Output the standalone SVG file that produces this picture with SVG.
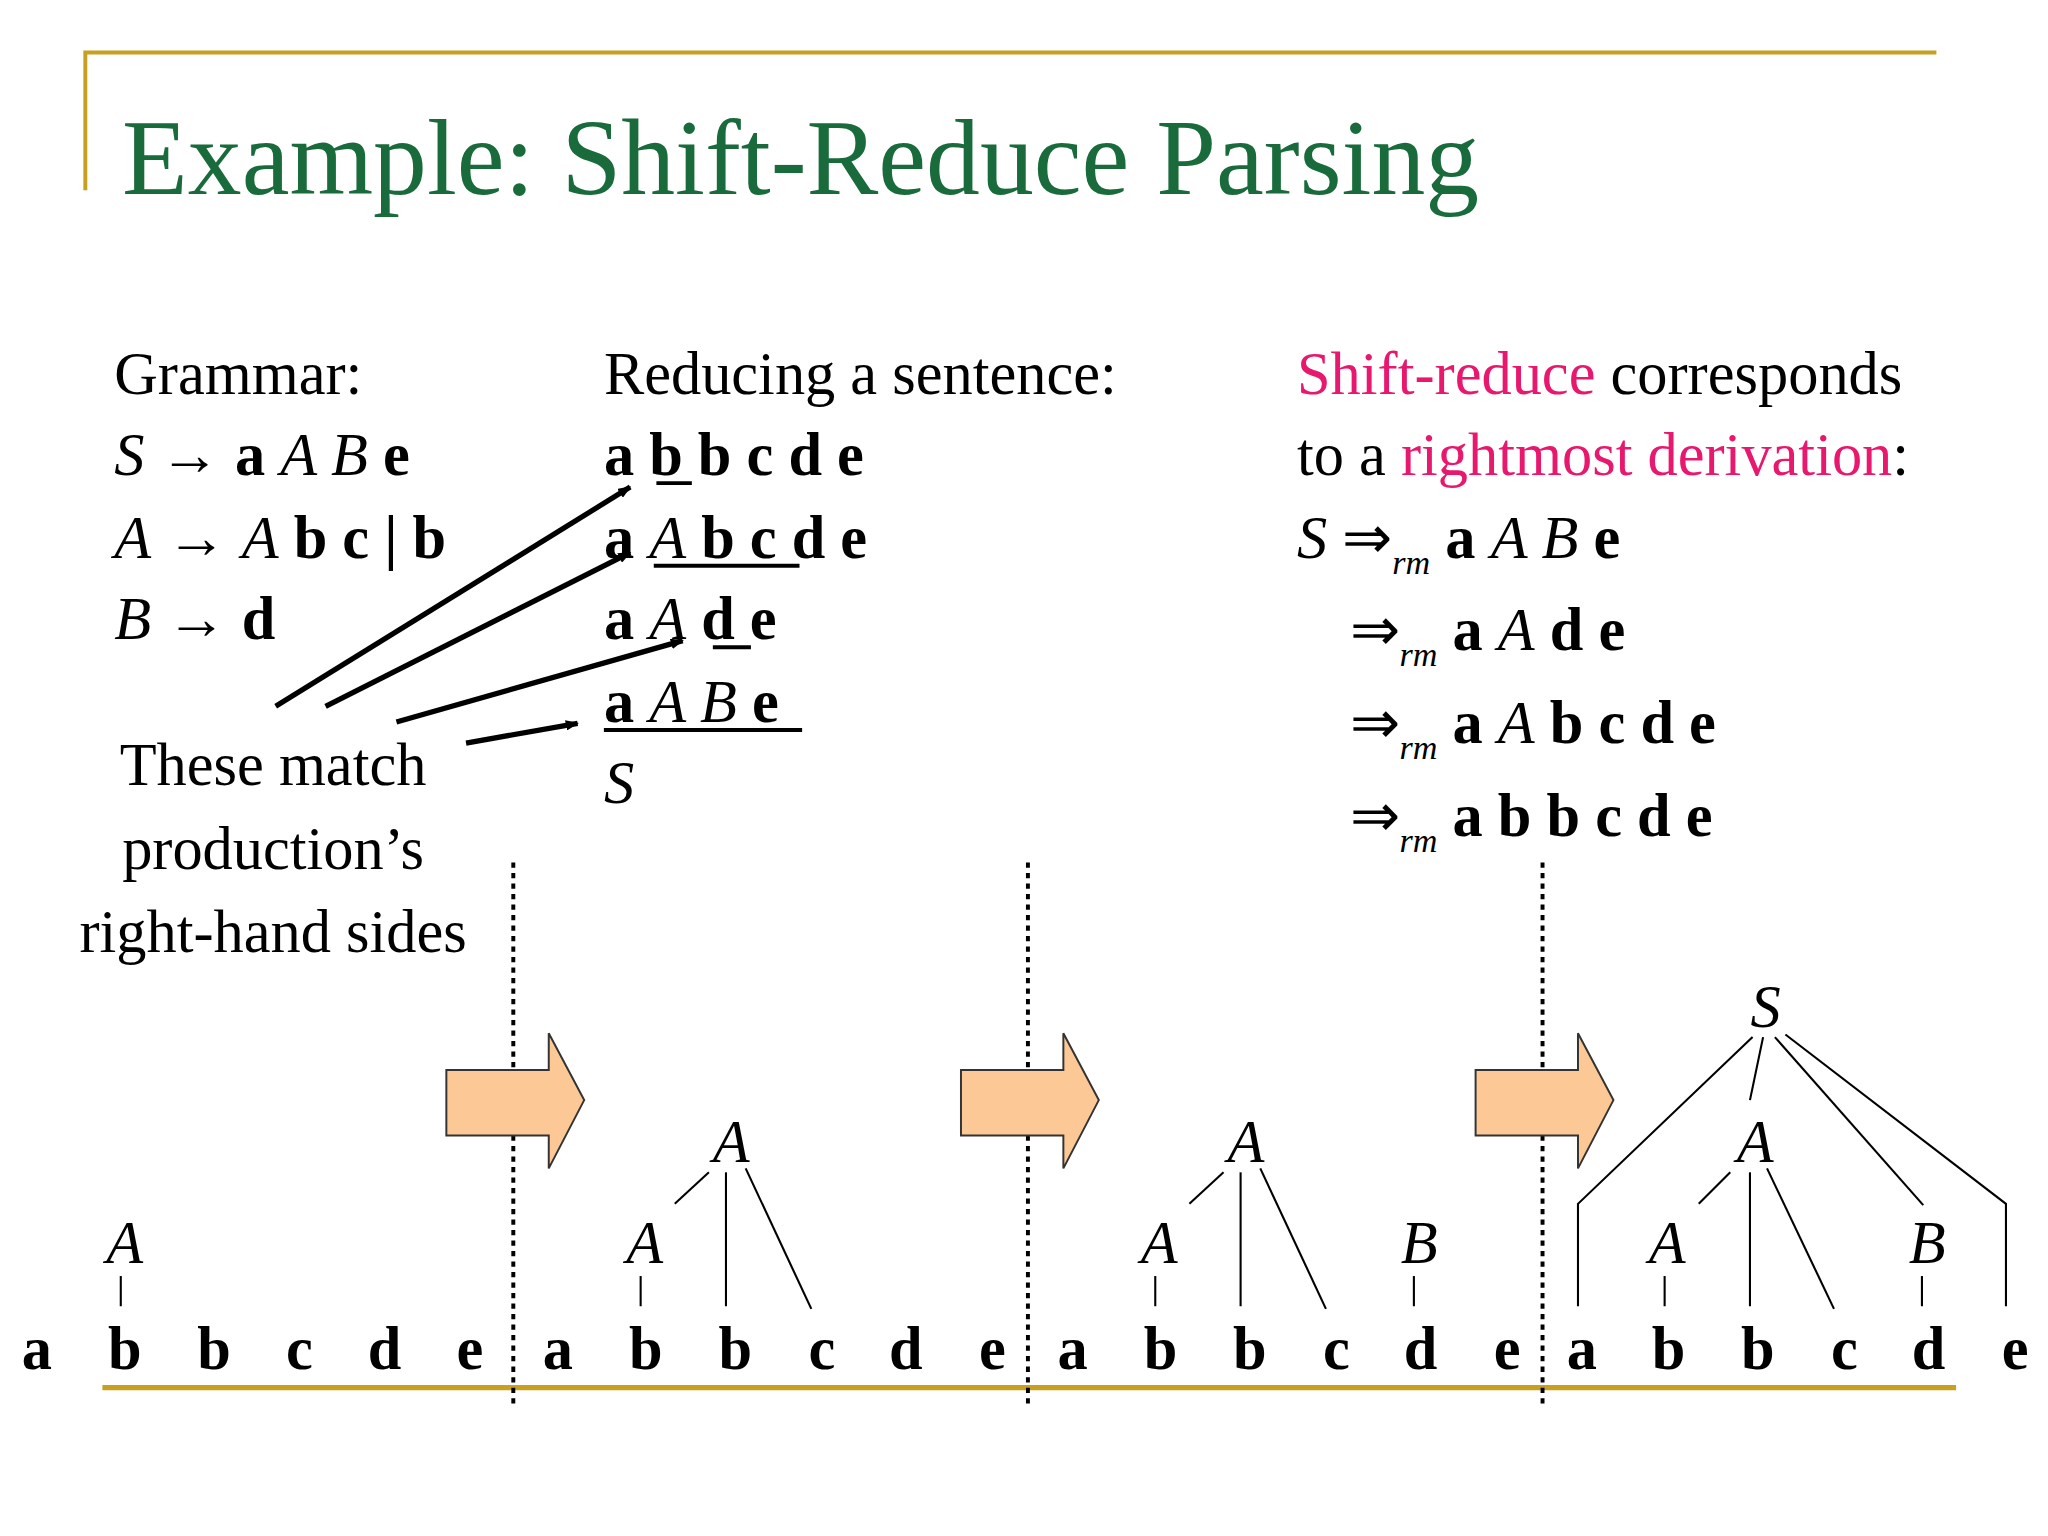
<svg xmlns="http://www.w3.org/2000/svg" width="2048" height="1536" viewBox="0 0 2048 1536">
<style>
text{font-family:"Liberation Serif","Times New Roman",serif;fill:#000}
.t{font-size:46px}
.b{font-weight:bold}
.i{font-style:italic}
.pk{fill:#e8186e}
.ln{stroke:#000;stroke-width:1.6;fill:none}
.dot{stroke:#000;stroke-width:3;stroke-dasharray:4 4}
.ba{fill:#fcc996;stroke:#333;stroke-width:1.5}
.u{stroke:#000;stroke-width:3}
</style>
<defs><marker id="ah" markerWidth="10" markerHeight="8" refX="9" refY="4" orient="auto" markerUnits="userSpaceOnUse"><path d="M0,0 L10,4 L0,8 Z"/></marker></defs>
<rect width="2048" height="1536" fill="#fff"/>
<g transform="scale(1.3128)">
<g id="frame"><path d="M65,145 V40 H1475" stroke="#c8a020" stroke-width="3" fill="none"/>
<line x1="78" y1="1057" x2="1490" y2="1057" stroke="#c8a020" stroke-width="4"/></g>
<text id="title" x="93" y="148" font-size="82" fill="#1a6b3c" style="fill:#1a6b3c">Example: Shift-Reduce Parsing</text>

<g id="grammar" class="t">
<text x="87" y="300" class="t">Grammar:</text>
<text x="87" y="362" class="t"><tspan class="i">S</tspan> → <tspan class="b">a</tspan> <tspan class="i">A B</tspan> <tspan class="b">e</tspan></text>
<text x="87" y="425" class="t"><tspan class="i">A</tspan> → <tspan class="i">A</tspan> <tspan class="b">b c | b</tspan></text>
<text x="87" y="487" class="t"><tspan class="i">B</tspan> → <tspan class="b">d</tspan></text>
</g>

<g id="reducing">
<text x="460" y="300" class="t">Reducing a sentence:</text>
<text x="460" y="362" class="t b">a b b c d e</text>
<line class="u" x1="500" y1="368" x2="527" y2="368"/>
<text x="460" y="425" class="t"><tspan class="b">a</tspan> <tspan class="i">A</tspan> <tspan class="b">b c d e</tspan></text>
<line class="u" x1="498" y1="431" x2="609" y2="431"/>
<text x="460" y="487" class="t"><tspan class="b">a</tspan> <tspan class="i">A</tspan> <tspan class="b">d e</tspan></text>
<line class="u" x1="543" y1="493" x2="572" y2="493"/>
<text x="460" y="550" class="t"><tspan class="b">a</tspan> <tspan class="i">A B</tspan> <tspan class="b">e</tspan></text>
<line class="u" x1="460" y1="556" x2="611" y2="556"/>
<text x="460" y="612" class="t i">S</text>
</g>

<g id="derivation">
<text x="988" y="300" class="t"><tspan class="pk">Shift-reduce</tspan> corresponds</text>
<text x="988" y="362" class="t">to a <tspan class="pk">rightmost derivation</tspan>:</text>
<text x="988" y="425" class="t"><tspan class="i">S</tspan> ⇒<tspan class="i" font-size="26" dy="12">rm</tspan><tspan dy="-12"> </tspan><tspan class="b">a</tspan> <tspan class="i">A B</tspan> <tspan class="b">e</tspan></text>
<text x="1028" y="495" class="t">⇒<tspan class="i" font-size="26" dy="12">rm</tspan><tspan dy="-12"> </tspan><tspan class="b">a</tspan> <tspan class="i">A</tspan> <tspan class="b">d e</tspan></text>
<text x="1028" y="566" class="t">⇒<tspan class="i" font-size="26" dy="12">rm</tspan><tspan dy="-12"> </tspan><tspan class="b">a</tspan> <tspan class="i">A</tspan> <tspan class="b">b c d e</tspan></text>
<text x="1028" y="637" class="t">⇒<tspan class="i" font-size="26" dy="12">rm</tspan><tspan dy="-12"> </tspan><tspan class="b">a b b c d e</tspan></text>
</g>

<g id="note" text-anchor="middle">
<text x="208" y="598" class="t">These match</text>
<text x="208" y="662" class="t">production’s</text>
<text x="208" y="725" class="t">right-hand sides</text>
</g>

<g id="connectors" stroke="#000" stroke-width="4" fill="none">
<line x1="210" y1="538" x2="480" y2="371" marker-end="url(#ah)"/>
<line x1="248" y1="538" x2="480" y2="421" marker-end="url(#ah)"/>
<line x1="302" y1="550" x2="520" y2="488" marker-end="url(#ah)"/>
<line x1="355" y1="566" x2="440" y2="551" marker-end="url(#ah)"/>
</g>

<g id="dividers">
<line class="dot" x1="391" y1="657" x2="391" y2="1072"/>
<line class="dot" x1="783" y1="657" x2="783" y2="1072"/>
<line class="dot" x1="1175" y1="657" x2="1175" y2="1072"/>
</g>

<g id="blockarrows">
<path class="ba" d="M340,815 H418 V787 L445,838 L418,890 V865 H340 Z"/>
<path class="ba" d="M732,815 H810 V787 L837,838 L810,890 V865 H732 Z"/>
<path class="ba" d="M1124,815 H1202 V787 L1229,838 L1202,890 V865 H1124 Z"/>
</g>

<g id="strings" class="t b" text-anchor="middle">
<text x="28" y="1043">a</text><text x="95" y="1043">b</text><text x="163" y="1043">b</text><text x="228" y="1043">c</text><text x="293" y="1043">d</text><text x="358" y="1043">e</text>
<text x="425" y="1043">a</text><text x="492" y="1043">b</text><text x="560" y="1043">b</text><text x="626" y="1043">c</text><text x="690" y="1043">d</text><text x="756" y="1043">e</text>
<text x="817" y="1043">a</text><text x="884" y="1043">b</text><text x="952" y="1043">b</text><text x="1018" y="1043">c</text><text x="1082" y="1043">d</text><text x="1148" y="1043">e</text>
<text x="1205" y="1043">a</text><text x="1271" y="1043">b</text><text x="1339" y="1043">b</text><text x="1405" y="1043">c</text><text x="1469" y="1043">d</text><text x="1535" y="1043">e</text>
</g>

<g id="trees" class="t i" text-anchor="middle">
<text x="95" y="962">A</text>
<text x="491" y="962">A</text><text x="557" y="885">A</text>
<text x="883" y="962">A</text><text x="949" y="885">A</text><text x="1081" y="962">B</text>
<text x="1270" y="962">A</text><text x="1337" y="885">A</text><text x="1468" y="962">B</text><text x="1345" y="782">S</text>
</g>
<g id="treelines" class="ln">
<line x1="92" y1="972" x2="92" y2="995"/>
<line x1="488" y1="972" x2="488" y2="995"/>
<line x1="540" y1="893" x2="514" y2="917"/><line x1="553" y1="893" x2="553" y2="995"/><line x1="568" y1="890" x2="618" y2="997"/>
<line x1="880" y1="972" x2="880" y2="995"/>
<line x1="932" y1="893" x2="906" y2="917"/><line x1="945" y1="893" x2="945" y2="995"/><line x1="960" y1="890" x2="1010" y2="997"/>
<line x1="1077" y1="972" x2="1077" y2="995"/>
<line x1="1268" y1="972" x2="1268" y2="995"/>
<line x1="1318" y1="893" x2="1294" y2="917"/><line x1="1333" y1="893" x2="1333" y2="995"/><line x1="1346" y1="890" x2="1397" y2="997"/>
<line x1="1464" y1="972" x2="1464" y2="995"/>
<path d="M1335,790 L1202,917 V995"/>
<line x1="1343" y1="790" x2="1333" y2="838"/>
<line x1="1352" y1="790" x2="1465" y2="918"/>
<path d="M1360,788 L1528,917 V995"/>
</g>
</g>
</svg>
